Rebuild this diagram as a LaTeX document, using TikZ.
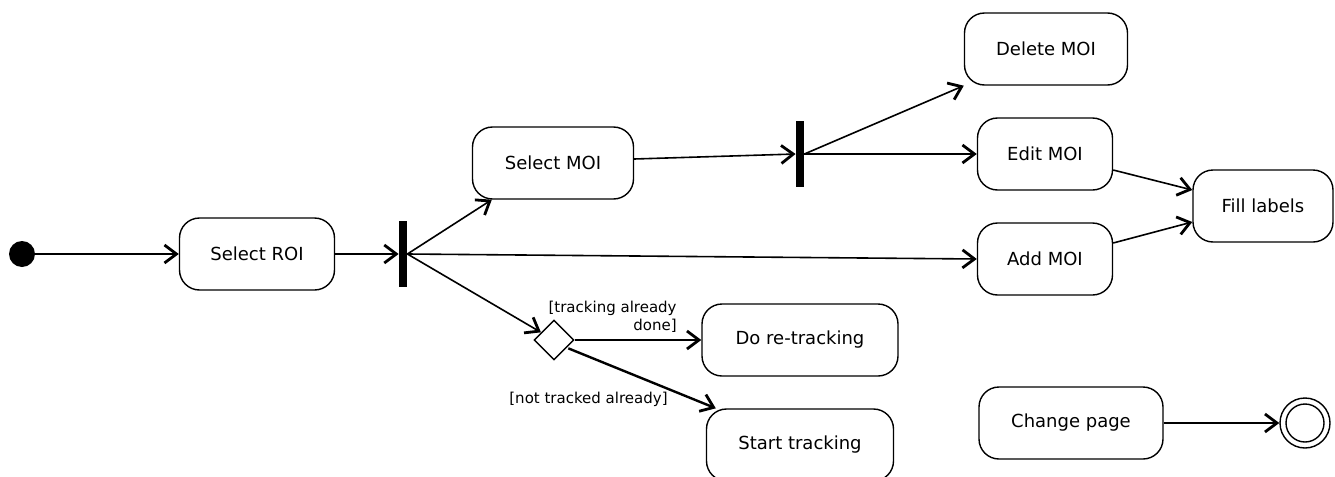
\documentclass[tikz,border=0pt]{standalone}
\usepackage{fontspec}
\setmainfont{DejaVu Sans}
\usetikzlibrary{arrows.meta,shapes.geometric}

\tikzset{
  action/.style={draw,line width=.7pt,rounded corners=10pt,minimum height=36pt,inner sep=2pt,font=\fontsize{9}{11}\selectfont},
  bar/.style={fill=black,inner sep=0pt,minimum width=4pt,minimum height=33pt},
  flow/.style={line width=.8pt,-{Straight Barb[length=6pt,width=9pt,line width=1.4pt]}},
  guard/.style={inner sep=1pt,font=\fontsize{7.5}{9}\selectfont}
}

\begin{document}
\begin{tikzpicture}[x=.5pt,y=-.5pt]
\useasboundingbox (0,0) rectangle (1335,477);
% start and end
\node (init) [circle,fill=black,inner sep=0pt,minimum size=13pt] at (22,254) {};
\node (final) [circle,draw,line width=.7pt,inner sep=0pt,minimum size=25pt] at (1305,423) {};
\draw[line width=.7pt] (final.center) circle[radius=9.5pt];
% actions
\node (selroi) [action,minimum width=77.5pt] at (257,254) {Select ROI};
\node (selmoi) [action,minimum width=80.5pt] at (553,163) {Select MOI};
\node (delmoi) [action,minimum width=81.5pt] at (1046,49) {Delete MOI};
\node (editmoi) [action,minimum width=67.5pt] at (1045,154) {Edit MOI};
\node (addmoi) [action,minimum width=67.5pt] at (1045,259) {Add MOI};
\node (fill) [action,minimum width=70pt] at (1263,206) {Fill labels};
\node (retrack) [action,minimum width=98pt] at (800,340) {Do re-tracking};
\node (starttr) [action,minimum width=93.5pt] at (800,445) {Start tracking};
\node (chpage) [action,minimum width=92pt] at (1071,423) {Change page};
% forks and decision
\node (fork1) [bar] at (403,254) {};
\node (fork2) [bar] at (800,154) {};
\node (dec) [diamond,draw,fill=white,line width=.7pt,inner sep=0pt,minimum size=20pt] at (554,340) {};
% guards
\node (gdone) [guard,align=right,anchor=south east] at (679,335) {[tracking already\\done]};
\node (gnot) [guard,anchor=east] at (670,399) {[not tracked already]};
% flows
\draw[flow] (init) -- (selroi);
\draw[flow] (selroi) -- (fork1);
\draw[flow] (fork1.east) -- ([xshift=10pt]selmoi.south west);
\draw[flow] (fork1.east) -- (addmoi.west);
\draw[flow] (fork1.east) -- (dec);
\draw[flow] ([yshift=2pt]selmoi.east) -- (fork2.west);
\draw[flow] (fork2.east) -- (delmoi.south west);
\draw[flow] (fork2.east) -- (editmoi.west);
\draw[flow] ([yshift=-8pt]editmoi.east) -- ([yshift=8pt]fill.west);
\draw[flow] ([yshift=8pt]addmoi.east) -- ([yshift=-8pt]fill.west);
\draw[flow] (dec.east) -- (retrack.west);
\draw[flow,line width=1.2pt] ([shift={(2pt,1pt)}]dec.south east) -- ([xshift=5pt]starttr.north west);
\draw[flow] (chpage) -- (final);
\end{tikzpicture}
\end{document}
